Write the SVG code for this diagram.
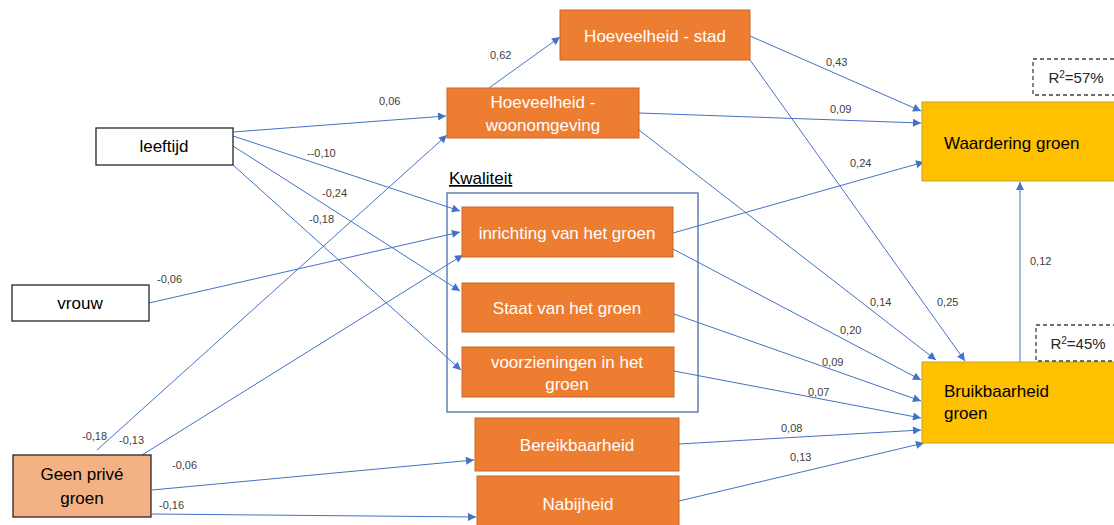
<svg xmlns="http://www.w3.org/2000/svg" width="1114" height="525" viewBox="0 0 1114 525">
<defs>
<marker id="arr" viewBox="0 0 10 10" refX="10" refY="5" markerWidth="9" markerHeight="8" markerUnits="userSpaceOnUse" orient="auto">
<path d="M0,0 L10,5 L0,10 z" fill="#4472C4"/>
</marker>
<style>
.bg{fill:#ffffff}
.white{fill:#ffffff;stroke:#262626;stroke-width:1.3}
.orange{fill:#ED7D31;stroke:#C9662A;stroke-width:1}
.peach{fill:#F4B183;stroke:#262626;stroke-width:1.3}
.yellow{fill:#FFC000;stroke:#C9A227;stroke-width:1}
.dash{fill:#ffffff;stroke:#404040;stroke-width:1.3;stroke-dasharray:4 3}
.grp{fill:none;stroke:#4A6CA8;stroke-width:1.3}
.t{font-family:"Liberation Sans",Arial,sans-serif;font-size:17px;fill:#000000;text-anchor:middle}
.tr{font-family:"Liberation Sans",Arial,sans-serif;font-size:15px;fill:#262626;text-anchor:middle}
.tw{font-family:"Liberation Sans",Arial,sans-serif;font-size:17px;fill:#ffffff;text-anchor:middle}
.tl{font-family:"Liberation Sans",Arial,sans-serif;font-size:17px;fill:#000000}
.lab{font-family:"Liberation Sans",Arial,sans-serif;font-size:11px;fill:#404040}
.e{fill:none;stroke:#4472C4;stroke-width:1;marker-end:url(#arr)}
</style>
</defs>
<rect class="bg" x="0" y="0" width="1114" height="525"/>

<g id="kwaliteit-group">
<rect class="grp" x="447" y="193" width="251" height="219"/>
<text class="tl" x="449" y="184" text-decoration="underline">Kwaliteit</text>
</g>

<g id="connectors">
<line class="e" x1="233" y1="132" x2="446" y2="116"/>
<line class="e" x1="233" y1="136" x2="460" y2="211"/>
<line class="e" x1="233" y1="146" x2="460" y2="291"/>
<line class="e" x1="233" y1="165" x2="461" y2="370"/>
<line class="e" x1="149" y1="303" x2="460" y2="232"/>
<line class="e" x1="97" y1="450" x2="447" y2="135"/>
<line class="e" x1="142" y1="455" x2="463" y2="255"/>
<line class="e" x1="152" y1="490" x2="474" y2="460"/>
<line class="e" x1="152" y1="514" x2="476" y2="517"/>
<line class="e" x1="489" y1="88" x2="560" y2="37"/>
<line class="e" x1="750" y1="36" x2="921" y2="111"/>
<line class="e" x1="639" y1="113" x2="921" y2="123"/>
<line class="e" x1="673" y1="233" x2="924" y2="162"/>
<line class="e" x1="750" y1="60" x2="965" y2="361"/>
<line class="e" x1="639" y1="130" x2="936" y2="360"/>
<line class="e" x1="673" y1="249" x2="921" y2="380"/>
<line class="e" x1="674" y1="314" x2="921" y2="401"/>
<line class="e" x1="674" y1="371" x2="921" y2="418"/>
<line class="e" x1="679" y1="444" x2="921" y2="430"/>
<line class="e" x1="679" y1="501" x2="924" y2="443"/>
<line class="e" x1="1020" y1="362" x2="1020" y2="182"/>
<text class="lab" x="379" y="105">0,06</text>
<text class="lab" x="307" y="157">--0,10</text>
<text class="lab" x="322" y="197">-0,24</text>
<text class="lab" x="309" y="223">-0,18</text>
<text class="lab" x="157" y="283">-0,06</text>
<text class="lab" x="82" y="440">-0,18</text>
<text class="lab" x="119" y="444">-0,13</text>
<text class="lab" x="172" y="469">-0,06</text>
<text class="lab" x="159" y="509">-0,16</text>
<text class="lab" x="490" y="59">0,62</text>
<text class="lab" x="826" y="66">0,43</text>
<text class="lab" x="830" y="113">0,09</text>
<text class="lab" x="850" y="167">0,24</text>
<text class="lab" x="937" y="306">0,25</text>
<text class="lab" x="870" y="306">0,14</text>
<text class="lab" x="840" y="334">0,20</text>
<text class="lab" x="822" y="366">0,09</text>
<text class="lab" x="808" y="396">0,07</text>
<text class="lab" x="781" y="432">0,08</text>
<text class="lab" x="790" y="461">0,13</text>
<text class="lab" x="1030" y="265">0,12</text>
</g>

<g id="leeftijd">
<rect class="white" x="96" y="128" width="137" height="37"/>
<text class="t" x="164" y="152">leeftijd</text>
</g>
<g id="vrouw">
<rect class="white" x="12" y="285" width="137" height="36"/>
<text class="t" x="80" y="309">vrouw</text>
</g>
<g id="geen-prive-groen">
<rect class="peach" x="13" y="455" width="138" height="62"/>
<text class="t" x="82" y="480">Geen privé</text>
<text class="t" x="82" y="504">groen</text>
</g>
<g id="hoeveelheid-stad">
<rect class="orange" x="560" y="10" width="190" height="50"/>
<text class="tw" x="655" y="42">Hoeveelheid  - stad</text>
</g>
<g id="hoeveelheid-woonomgeving">
<rect class="orange" x="447" y="88" width="192" height="50"/>
<text class="tw" x="543" y="108">Hoeveelheid  -</text>
<text class="tw" x="543" y="131">woonomgeving</text>
</g>
<g id="inrichting">
<rect class="orange" x="462" y="207" width="211" height="50"/>
<text class="tw" x="567" y="239">inrichting van het groen</text>
</g>
<g id="staat">
<rect class="orange" x="462" y="283" width="212" height="49"/>
<text class="tw" x="567" y="314">Staat van het groen</text>
</g>
<g id="voorzieningen">
<rect class="orange" x="462" y="347" width="212" height="50"/>
<text class="tw" x="567" y="368">voorzieningen in het</text>
<text class="tw" x="567" y="390">groen</text>
</g>
<g id="bereikbaarheid">
<rect class="orange" x="475" y="418" width="204" height="53"/>
<text class="tw" x="577" y="451">Bereikbaarheid</text>
</g>
<g id="nabijheid">
<rect class="orange" x="477" y="476" width="202" height="55"/>
<text class="tw" x="578" y="510">Nabijheid</text>
</g>
<g id="waardering-groen">
<rect class="yellow" x="922" y="102" width="200" height="79"/>
<text class="tl" x="944" y="149">Waardering groen</text>
</g>
<g id="r2-57">
<rect class="dash" x="1033" y="59" width="90" height="36"/>
<text class="tr" x="1076" y="83">R<tspan font-size="10" dy="-5">2</tspan><tspan dy="5">=57%</tspan></text>
</g>
<g id="bruikbaarheid-groen">
<rect class="yellow" x="922" y="362" width="200" height="81"/>
<text class="tl" x="944" y="397">Bruikbaarheid</text>
<text class="tl" x="944" y="419">groen</text>
</g>
<g id="r2-45">
<rect class="dash" x="1036" y="325" width="90" height="36"/>
<text class="tr" x="1078" y="349">R<tspan font-size="10" dy="-5">2</tspan><tspan dy="5">=45%</tspan></text>
</g>
</svg>
